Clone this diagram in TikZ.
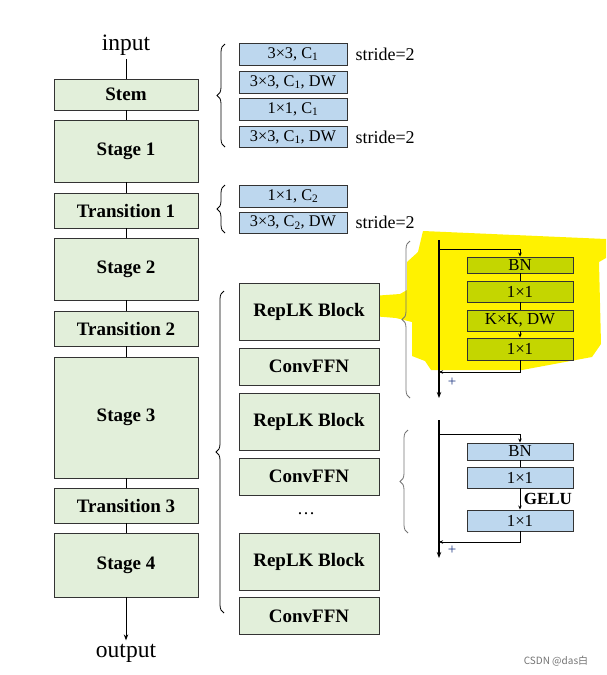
\documentclass[tikz,border=0pt]{standalone}
\usepackage{fontspec}
\setmainfont{Liberation Serif}
\newfontfamily\cjk{Noto Sans CJK SC}
\usetikzlibrary{arrows.meta,decorations.pathreplacing}

\definecolor{stagegreen}{RGB}{226,239,218}
\definecolor{convblue}{RGB}{189,215,238}
\definecolor{markolive}{RGB}{196,214,0}
\definecolor{plusblue}{RGB}{31,56,130}

\begin{document}
\begin{tikzpicture}[x=1pt, y=-1pt,
    stage/.style = {draw=black!80, line width=0.9pt, fill=stagegreen, minimum width=144pt, inner sep=0pt, font=\fontsize{19}{20}\selectfont\bfseries},
    block/.style = {stage, minimum width=140pt},
    conv/.style = {draw=black!80, line width=0.9pt, fill=convblue, minimum width=108pt, minimum height=21pt, inner sep=0pt, font=\fontsize{16.3}{17}\selectfont},
    unit/.style = {conv, minimum width=106pt, font=\fontsize{16.8}{17}\selectfont},
    hunit/.style = {unit, fill=markolive},
    label/.style = {font=\fontsize{18}{19}\selectfont},
    link/.style = {line width=1pt},
    main/.style = {line width=1.6pt},
    tip/.style = {-{Stealth[length=6pt,width=4.5pt]}},
    smalltip/.style = {-{Stealth[length=4pt,width=3.5pt]}},
    curly/.style = {decorate, decoration={brace, amplitude=8pt}, line width=0.8pt}]

    \useasboundingbox (0,0) rectangle (606,675);

    % highlight
    \fill[yellow] (423,231) -- (606,239) -- (606,258) -- (599,262) -- (601,344) -- (592,357)
        -- (522,370) -- (431,370) -- (425,361) -- (412,356) -- (412,322) -- (396,318)
        -- (372,316) -- (372,296) -- (400,294) -- (407,290) -- (407,262) -- (418,252) -- cycle;

    % left column
    \node[label, font=\fontsize{23.5}{24}\selectfont] (input) at (126,45) {input};
    \node[stage, minimum height=31pt] (stem) at (126,94.5) {Stem};
    \node[stage, minimum height=62pt] (s1) at (126,151) {Stage 1};
    \node[stage, minimum height=35pt] (t1) at (126,210.5) {Transition 1};
    \node[stage, minimum height=62pt] (s2) at (126,269) {Stage 2};
    \node[stage, minimum height=35pt] (t2) at (126,328.5) {Transition 2};
    \node[stage, minimum height=121pt] (s3) at (126,417.5) {Stage 3};
    \node[stage, minimum height=35pt] (t3) at (126,505.5) {Transition 3};
    \node[stage, minimum height=64pt] (s4) at (126,565) {Stage 4};
    \node[label, font=\fontsize{23.5}{24}\selectfont] (output) at (126,653) {output};

    \draw[link] (input) -- (stem);
    \draw[link] (stem) -- (s1);
    \draw[link] (s1) -- (t1);
    \draw[link] (t1) -- (s2);
    \draw[link] (s2) -- (t2);
    \draw[link] (t2) -- (s3);
    \draw[link] (s3) -- (t3);
    \draw[link] (t3) -- (s4);
    \draw[link, tip] (s4) -- (output);

    % stem and transition layers
    \node[conv, minimum height=22pt] (c1) at (293,54) {3×3, C\textsubscript{1}};
    \node[conv, minimum height=22pt] (c2) at (293,82) {3×3, C\textsubscript{1}, DW};
    \node[conv, minimum height=22pt] (c3) at (293,109) {1×1, C\textsubscript{1}};
    \node[conv] (c4) at (293,137) {3×3, C\textsubscript{1}, DW};
    \node[conv, minimum height=22pt] (c5) at (293,196) {1×1, C\textsubscript{2}};
    \node[conv] (c6) at (293,222.5) {3×3, C\textsubscript{2}, DW};

    \node[label, anchor=west] (str1) at (352,54) {stride=2};
    \node[label, anchor=west] (str2) at (352,137) {stride=2};
    \node[label, anchor=west] (str3) at (352,222.5) {stride=2};

    \draw[curly] (225,147) -- (225,44);
    \draw[curly] (225,233) -- (225,185);

    % blocks of a stage
    \node[block, minimum height=57pt] (rep1) at (309,311.5) {RepLK Block};
    \node[block, minimum height=37pt] (ffn1) at (309,366.5) {ConvFFN};
    \node[block, minimum height=57pt] (rep2) at (309,421.5) {RepLK Block};
    \node[block, minimum height=37pt] (ffn2) at (309,476.5) {ConvFFN};
    \node[label] (dots) at (306,514) {\dots};
    \node[block, minimum height=57pt] (rep3) at (309,561.5) {RepLK Block};
    \node[block, minimum height=37pt] (ffn3) at (309,616) {ConvFFN};

    \draw[curly] (224,613) -- (224,291);

    % RepLK block detail
    \node[hunit, minimum height=16pt] (bn1) at (520,265) {BN};
    \node[hunit] (pw1) at (520,291.5) {1×1};
    \node[hunit] (dw1) at (520,320.5) {K×K, DW};
    \node[hunit, minimum height=22pt] (pw2) at (520,349) {1×1};

    \coordinate (rtop) at (439,240);
    \coordinate (rbot) at (439,398);
    \coordinate (rsplit) at (439,249);
    \coordinate (rturn) at (520,249);
    \coordinate (rback) at (520,372);
    \coordinate (radd) at (439,372);

    \draw[main, tip] (rtop) -- (rbot);
    \draw[link, smalltip] (rsplit) -- (rturn) -- (bn1);
    \draw[link] (bn1) -- (pw1);
    \draw[link] (pw1) -- (dw1);
    \draw[link, smalltip] (dw1) -- (pw2);
    \draw[link, smalltip] (pw2) -- (rback) -- (radd);
    \node[text=plusblue, font=\fontsize{15}{15}\selectfont] (rplus) at (452,382) {+};

    \draw[curly, draw=black!55] (410,398) -- (410,241);

    % ConvFFN detail
    \node[unit, minimum height=17pt] (bn2) at (520,451.5) {BN};
    \node[unit] (pw3) at (520,477.5) {1×1};
    \node[unit] (pw4) at (520,520.5) {1×1};

    \coordinate (ftop) at (439,420);
    \coordinate (fbot) at (439,558);
    \coordinate (fsplit) at (439,434);
    \coordinate (fturn) at (520,434);
    \coordinate (fback) at (520,542);
    \coordinate (fadd) at (439,542);

    \draw[main, tip] (ftop) -- (fbot);
    \draw[link, smalltip] (fsplit) -- (fturn) -- (bn2);
    \draw[link] (bn2) -- (pw3);
    \draw[link, smalltip] (pw3) -- node[right, font=\fontsize{17}{17}\selectfont\bfseries] {GELU} (pw4);
    \draw[link, smalltip] (pw4) -- (fback) -- (fadd);
    \node[text=plusblue, font=\fontsize{15}{15}\selectfont] (fplus) at (452,550) {+};

    \draw[curly, draw=black!55] (408,533) -- (408,430);

    \node[text=black!55, font=\cjk\fontsize{10}{12}\selectfont] (mark) at (556,661) {CSDN @das白};

\end{tikzpicture}
\end{document}
